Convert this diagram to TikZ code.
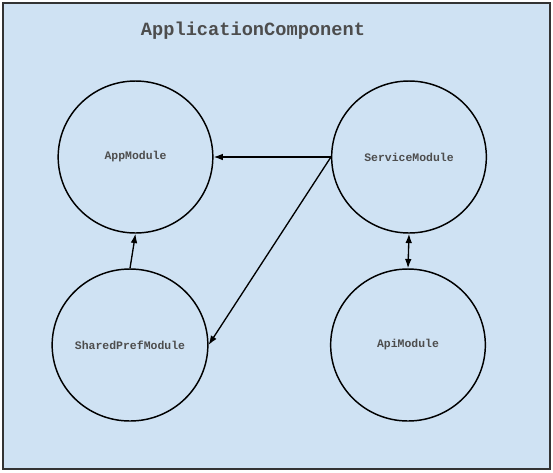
\documentclass[tikz,border=0pt]{standalone}
\usepackage{fontspec}
\newfontfamily\codefont{Liberation Mono}
\usetikzlibrary{shapes.geometric,arrows.meta}
\definecolor{panelblue}{HTML}{CFE2F3}
\definecolor{labelgray}{HTML}{4D4D4D}
\tikzset{
  module/.style={ellipse, draw=black, line width=1.1pt, minimum width=116pt, minimum height=114pt,
    inner sep=0pt, font=\codefont\bfseries\fontsize{8.6}{10}\selectfont, text=labelgray},
  dep/.style={line width=1pt, -{Latex[length=7pt,width=5pt]}}
}
\begin{document}
\begin{tikzpicture}[x=0.75pt, y=-0.75pt]
     \useasboundingbox (0,0) rectangle (553,472);
     \filldraw[fill=panelblue, draw=black!80, line width=1.2pt] (3,3) rectangle (550,469);
     \node[font=\codefont\bfseries\fontsize{14}{16}\selectfont, text=labelgray] (title) at (253,31) {ApplicationComponent};

     \node[module] (app) at (135.5,157) {AppModule};
     \node[module] (service) at (409,157) {ServiceModule};
     \node[module] (shared) at (130,345) {SharedPrefModule};
     \node[module] (api) at (408,345) {ApiModule};

     \draw[dep] (service.west) -- (app.east);
     \draw[dep] (service.west) -- (shared.east);
     \draw[dep] (shared.north) -- (app.south);
     \draw[dep, {Latex[length=7pt,width=5pt]}-{Latex[length=7pt,width=5pt]}] (service.south) -- (api.north);
   \end{tikzpicture}
\end{document}
